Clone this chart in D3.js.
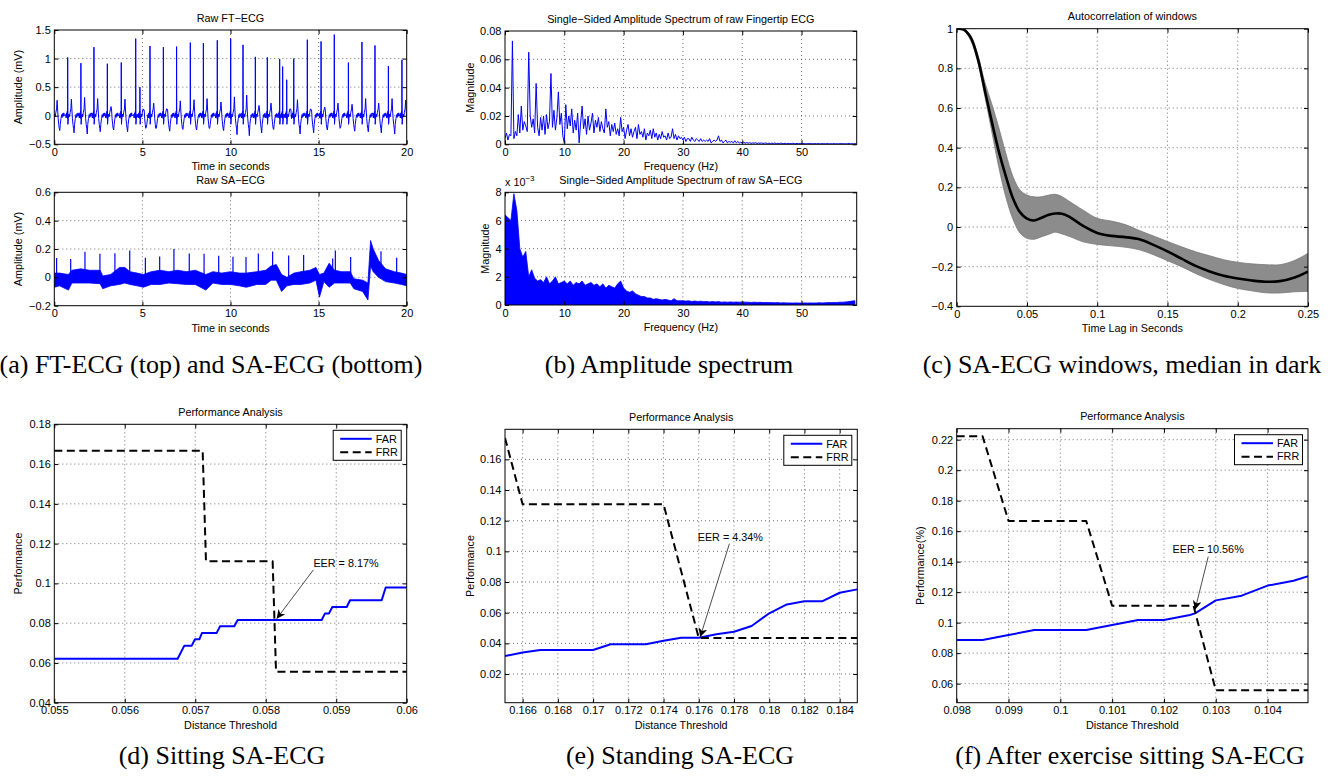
<!DOCTYPE html>
<html>
<head>
<meta charset="utf-8">
<script src="https://d3js.org/d3.v7.min.js"></script>
<style>
  body { margin: 0; background: #fff; }
  svg text { font-family: "Liberation Sans", Arial, sans-serif; }
  .cap { font-family: "Liberation Serif", "Times New Roman", serif; font-size: 26px; }
</style>
</head>
<body>
<svg id="fig" width="1329" height="776"></svg>
<script>
// ---------- (a) raw FT-ECG: beats ----------
const ftBeatT  = [-0.05, 0.76, 1.51, 2.25, 3.01, 3.80, 4.62, 4.86, 5.43, 6.19, 6.94, 7.72, 8.46, 9.25, 10.01,
                  10.71, 11.41, 12.09, 12.79, 12.96, 13.19, 13.59, 14.36, 15.14, 15.89, 16.69, 17.46, 18.20, 18.96, 19.73];
const ftRPeak  = [0.05, 1.02, 0.92, 1.20, 0.91, 0.93, 1.35, 0.50, 1.22, 1.20, 1.21, 1.28, 1.27, 1.32, 1.35,
                  1.24, 1.03, 1.02, 0.99, 0.86, 0.63, 1.00, 1.33, 1.30, 1.42, 0.93, 1.29, 1.23, 0.87, 0.98];
const ftTWave  = [0.27, 0.29, 0.32, 0.30, 0.16, 0.29, 0.25, 0.10, 0.22, 0.12, 0.26, 0.28, 0.30, 0.24, 0.33,
                  0.36, 0.18, 0.22, 0.20, 0.10, 0.12, 0.28, 0.10, 0.15, 0.22, 0.20, 0.30, 0.22, 0.30, 0.27];
const ftDip    = [-0.26, -0.30, -0.32, -0.28, -0.25, -0.28, -0.26, -0.20, -0.22, -0.27, -0.24, -0.25, -0.22, -0.26, -0.33,
                  -0.35, -0.30, -0.24, -0.30, -0.20, -0.22, -0.32, -0.30, -0.25, -0.20, -0.27, -0.28, -0.30, -0.32, -0.28];
// one beat, offsets in seconds from the R peak; "R","T","D" take the per-beat values above
const ftShapeOff = [-0.12, -0.09, -0.065, -0.04, -0.02, -0.008, 0, 0.012, 0.035, 0.07, 0.10, 0.14, 0.18, 0.21,
                    0.24, 0.27, 0.30, 0.33, 0.36, 0.39, 0.43, 0.47, 0.50, 0.53, 0.56, 0.59, 0.62];
const ftShapeVal = [0.02, -0.04, 0.05, -0.02, 0.08, -0.05, "R", -0.15, -0.05, 0.03, -0.02, 0.06, 0.12, "T",
                    0.10, -0.05, -0.15, -0.22, "D", -0.15, -0.05, 0.02, -0.03, 0.04, -0.01, 0.05, 0.0];

// ---------- (a) raw SA-ECG: noise band envelope + spikes ----------
const saT  = [0, 0.3, 0.8, 1.0, 1.5, 2.0, 2.6, 2.75, 3.2, 3.7, 4.0, 4.3, 4.7, 5.05, 5.5, 6.0, 6.5, 7.0, 7.5, 8.0,
              8.6, 9.0, 9.5, 10.0, 10.5, 10.9, 11.5, 12.0, 12.3, 12.6, 12.9, 13.2, 13.6, 14.0, 14.5, 14.85, 15.05, 15.3, 15.6, 15.9,
              16.3, 16.8, 17.0, 17.5, 17.8, 17.95, 18.1, 18.4, 18.8, 19.3, 19.7, 20];
const saHi = [0.03, 0.03, 0.02, 0.05, 0.06, 0.05, 0.05, 0.01, 0.02, 0.07, 0.07, 0.04, 0.03, 0.02, 0.04, 0.05, 0.04, 0.05, 0.04, 0.05,
              0.02, 0.04, 0.03, 0.04, 0.03, 0.03, 0.04, 0.05, 0.08, 0.09, 0.02, 0.0, 0.03, 0.04, 0.05, 0.07, 0.02, 0.03, 0.10, 0.05,
              0.04, 0.04, -0.01, -0.02, -0.04, 0.26, 0.20, 0.12, 0.06, 0.04, 0.03, 0.02];
const saLo = [-0.07, -0.06, -0.09, -0.04, -0.04, -0.04, -0.045, -0.08, -0.06, -0.05, -0.04, -0.05, -0.06, -0.07, -0.05, -0.05, -0.04, -0.045, -0.05, -0.05,
              -0.09, -0.04, -0.05, -0.05, -0.06, -0.07, -0.05, -0.05, -0.02, -0.02, -0.10, -0.06, -0.05, -0.05, -0.04, -0.02, -0.14, -0.03, -0.07, -0.04,
              -0.04, -0.04, -0.08, -0.10, -0.16, 0.08, 0.04, 0.0, -0.03, -0.04, -0.05, -0.06];
const saSpikeT = [0.13, 0.93, 1.74, 2.59, 3.44, 4.28, 5.17, 5.98, 6.79, 7.66, 8.50, 9.33, 10.14, 10.88, 11.58,
                  12.39, 13.30, 14.15, 15.80, 15.95, 16.82, 18.54, 19.43];
const saSpikeV = [0.136, 0.13, 0.18, 0.166, 0.17, 0.19, 0.138, 0.147, 0.20, 0.169, 0.166, 0.152, 0.145, 0.143, 0.169,
                  0.183, 0.155, 0.157, 0.133, 0.19, 0.143, 0.185, 0.138];

// ---------- (b) spectra ----------
// FT-ECG magnitude, one value per 0.25 Hz starting at 0 Hz
const ftMag = [
  0.004, 0.008, 0.003, 0.007,  0.006, 0.073, 0.004, 0.009,  0.006, 0.021, 0.008, 0.027,  0.010, 0.016, 0.013, 0.009,
  0.065, 0.020, 0.012, 0.018,  0.008, 0.043, 0.012, 0.006,  0.019, 0.010, 0.020, 0.007,  0.021, 0.011, 0.016, 0.050,
  0.012, 0.024, 0.010, 0.019,  0.037, 0.014, 0.022, 0.006,  0.001, 0.028, 0.011, 0.020,  0.013, 0.025, 0.008, 0.017,
  0.010, 0.022, 0.001, 0.015,  0.027, 0.011, 0.018, 0.007,  0.020, 0.010, 0.015, 0.022,  0.008, 0.017, 0.012, 0.019,
  0.009, 0.016, 0.011, 0.008,  0.025, 0.012, 0.016, 0.006,  0.014, 0.009, 0.015, 0.007,  0.011, 0.006, 0.019, 0.009,
  0.012, 0.004, 0.010, 0.014,  0.006, 0.011, 0.005, 0.009,  0.012, 0.004, 0.014, 0.007,  0.009, 0.005, 0.011, 0.003,
  0.008, 0.006, 0.010, 0.004,  0.011, 0.005, 0.008, 0.003,  0.007, 0.004, 0.009, 0.005,  0.006, 0.003, 0.008, 0.004,
  0.005, 0.011, 0.004, 0.007,  0.003, 0.006, 0.004, 0.005,  0.003, 0.005, 0.002, 0.004,  0.004, 0.002, 0.005, 0.003,
  0.002, 0.004, 0.003, 0.002,  0.004, 0.002, 0.003, 0.002,  0.003, 0.002, 0.004, 0.001,  0.002, 0.003, 0.002, 0.003,
  0.006, 0.002, 0.003, 0.001,  0.002, 0.003, 0.001, 0.002,  0.0015, 0.002, 0.001, 0.0025, 0.001, 0.002, 0.001, 0.0015,
  0.001, 0.0015, 0.0008, 0.0012, 0.0008, 0.0012, 0.0006, 0.001, 0.0008, 0.0011, 0.0006, 0.0009, 0.0007, 0.0010, 0.0006, 0.0008,
  0.0009, 0.0006, 0.0008, 0.0005, 0.0008, 0.0006, 0.0009, 0.0005, 0.0007, 0.0005, 0.0008, 0.0006, 0.0005, 0.0007, 0.0004, 0.0006,
  0.0006, 0.0004, 0.0007, 0.0005, 0.0004, 0.0006, 0.0005, 0.0004, 0.0006, 0.0004, 0.0005, 0.0003, 0.0005, 0.0004, 0.0006, 0.0003,
  0.0004, 0.0005, 0.0003, 0.0005, 0.0004, 0.0003, 0.0005, 0.0004, 0.0003, 0.0005, 0.0004, 0.0003, 0.0004, 0.0003, 0.0005, 0.0003,
  0.0004, 0.0003, 0.0004, 0.0005, 0.0003, 0.0004, 0.0003, 0.0004, 0.0005, 0.0003, 0.0004, 0.0003, 0.0004, 0.0003];
const ftMagStep = 0.25;
// SA-ECG magnitude (x 10^-3), upper edge of the dense trace, one value per 0.5 Hz
const saMag = [
  6.4, 6.2, 6.0, 7.9, 6.7, 4.0, 3.4, 3.8, 2.0, 2.5,   1.9, 1.7, 1.8, 1.6, 2.0, 1.5, 1.7, 2.0, 1.5, 1.6,
  1.7, 1.5, 1.7, 1.4, 1.6, 1.5, 1.7, 1.4, 1.5, 1.6,   1.4, 1.5, 1.3, 1.5, 1.2, 1.4, 1.3, 1.2, 1.5, 1.7,
  1.2, 1.0, 0.9, 1.0, 0.8, 0.7, 0.6, 0.6, 0.5, 0.5,   0.4, 0.45, 0.4, 0.35, 0.4, 0.35, 0.3, 0.45, 0.3, 0.3,
  0.3, 0.28, 0.3, 0.25, 0.28, 0.25, 0.27, 0.24, 0.25, 0.22,  0.25, 0.22, 0.24, 0.2, 0.22, 0.2, 0.22, 0.2, 0.21, 0.2,
  0.22, 0.2, 0.2, 0.18, 0.2, 0.18, 0.19, 0.17, 0.18, 0.17,  0.17, 0.16, 0.17, 0.15, 0.16, 0.15, 0.15, 0.14, 0.15, 0.14,
  0.14, 0.15, 0.14, 0.15, 0.14, 0.15, 0.16, 0.15, 0.16, 0.17,  0.17, 0.18, 0.18, 0.2, 0.2, 0.22, 0.24, 0.28, 0.3];
const saMagStep = 0.5;

// ---------- (c) autocorrelation of windows ----------
const acLag    = [0, 0.005, 0.01, 0.015, 0.02, 0.025, 0.03, 0.035, 0.04, 0.045, 0.05, 0.055, 0.06, 0.065, 0.07, 0.075, 0.08,
                  0.09, 0.10, 0.11, 0.12, 0.13, 0.14, 0.15, 0.16, 0.17, 0.18, 0.19, 0.20, 0.21, 0.22, 0.23, 0.24, 0.25];
const acMedian = [1.0, 0.995, 0.955, 0.85, 0.69, 0.53, 0.38, 0.255, 0.145, 0.075, 0.042, 0.033, 0.045, 0.06, 0.068, 0.067, 0.052,
                  0.005, -0.03, -0.045, -0.051, -0.062, -0.09, -0.123, -0.16, -0.196, -0.224, -0.246, -0.26, -0.27, -0.276, -0.273, -0.256, -0.225];
const acUpper  = [1.0, 1.0, 0.965, 0.87, 0.73, 0.62, 0.50, 0.37, 0.255, 0.187, 0.161, 0.152, 0.152, 0.16, 0.165, 0.153, 0.13,
                  0.085, 0.044, 0.03, 0.012, -0.018, -0.045, -0.073, -0.10, -0.125, -0.145, -0.165, -0.178, -0.186, -0.19, -0.19, -0.17, -0.133];
const acLower  = [1.0, 0.99, 0.94, 0.83, 0.66, 0.48, 0.30, 0.15, 0.04, -0.03, -0.057, -0.062, -0.05, -0.038, -0.026, -0.035, -0.047,
                  -0.075, -0.088, -0.095, -0.102, -0.115, -0.14, -0.17, -0.20, -0.235, -0.265, -0.29, -0.31, -0.322, -0.332, -0.333, -0.327, -0.325];

// ---------- (d) sitting ----------
const dFarX = [0.055, 0.05675, 0.056845, 0.05695, 0.056996, 0.057058, 0.057096, 0.057304, 0.057351, 0.057554,
               0.057602, 0.058794, 0.058841, 0.058898, 0.058945, 0.059149, 0.059196, 0.059645, 0.059702, 0.06];
const dFarY = [0.0621, 0.0621, 0.0687, 0.0687, 0.0719, 0.0719, 0.0751, 0.0751, 0.0784, 0.0784,
               0.0816, 0.0816, 0.0849, 0.0849, 0.0881, 0.0881, 0.0915, 0.0915, 0.0979, 0.0979];
const dFrrX = [0.055, 0.057105, 0.057152, 0.058098, 0.058146, 0.06];
const dFrrY = [0.1667, 0.1667, 0.1111, 0.1111, 0.0556, 0.0556];

// ---------- (e) standing ----------
const eFarX = [0.165, 0.166, 0.167, 0.168, 0.169, 0.170, 0.171, 0.172, 0.173, 0.174, 0.175,
               0.176, 0.177, 0.178, 0.179, 0.180, 0.181, 0.182, 0.183, 0.184, 0.185];
const eFarY = [0.0317, 0.0341, 0.0357, 0.0357, 0.0357, 0.0357, 0.0394, 0.0394, 0.0394, 0.0417, 0.0437,
               0.0437, 0.0459, 0.0476, 0.0513, 0.0596, 0.0654, 0.0674, 0.0674, 0.0730, 0.0752];
const eFrrX = [0.165, 0.166, 0.174, 0.176, 0.185];
const eFrrY = [0.174, 0.1307, 0.1307, 0.0435, 0.0435];

// ---------- (f) after exercise sitting ----------
const fFarX = [0.098, 0.0985, 0.099, 0.0995, 0.100, 0.1005, 0.101, 0.1015, 0.102, 0.1025, 0.1026,
               0.103, 0.1035, 0.104, 0.1045, 0.105];
const fFarY = [0.0886, 0.0886, 0.0919, 0.0952, 0.0952, 0.0952, 0.0985, 0.1017, 0.1017, 0.1050, 0.1061,
               0.1146, 0.1177, 0.1243, 0.1275, 0.1327];
const fFrrX = [0.098, 0.0985, 0.099, 0.1005, 0.101, 0.10257, 0.103, 0.105];
const fFrrY = [0.2222, 0.2222, 0.1667, 0.1667, 0.1111, 0.1111, 0.0556, 0.0556];

const captions = [
  ["(a) FT-ECG (top) and SA-ECG (bottom)", 211, 373],
  ["(b) Amplitude spectrum", 669, 373],
  ["(c) SA-ECG windows, median in dark", 1122, 373],
  ["(d) Sitting SA-ECG", 222, 764],
  ["(e) Standing SA-ECG", 680, 764],
  ["(f) After exercise sitting SA-ECG", 1130, 764]
];

// ================= drawing =================
const svg = d3.select("#fig");
svg.append("rect").attr("width", 1329).attr("height", 776).attr("fill", "#fff");
const defs = svg.append("defs");
defs.append("marker").attr("id", "arrow")
  .attr("viewBox", "0 0 10 10").attr("refX", 10).attr("refY", 5)
  .attr("markerWidth", 9).attr("markerHeight", 9).attr("markerUnits", "userSpaceOnUse")
  .attr("orient", "auto")
  .append("path").attr("d", "M0,0 L10,5 L0,10 L3,5 Z").attr("fill", "#000");

const FONT = "Liberation Sans, Arial, sans-serif";
const BLUE = "#0000ff";
const fmt = d => String(+d.toFixed(6)).replace("-", "\u2212");
let clipN = 0;

function axes(o) {
  const fs = o.fs || 11;
  const g = svg.append("g").attr("transform", `translate(${o.left},${o.top})`);
  const x = d3.scaleLinear().domain(o.xDomain).range([0, o.w]);
  const y = d3.scaleLinear().domain(o.yDomain).range([o.h, 0]);

  const grid = g.append("g").attr("stroke", "#333").attr("stroke-width", 0.7).attr("stroke-dasharray", "1,3");
  o.xTicks.forEach(t => {
    const p = x(t);
    if (p > 1 && p < o.w - 1) grid.append("line").attr("x1", p).attr("x2", p).attr("y1", 0).attr("y2", o.h);
  });
  o.yTicks.forEach(t => {
    const p = y(t);
    if (p > 1 && p < o.h - 1) grid.append("line").attr("y1", p).attr("y2", p).attr("x1", 0).attr("x2", o.w);
  });

  const id = "clip" + (clipN++);
  g.append("clipPath").attr("id", id).append("rect").attr("width", o.w).attr("height", o.h);
  const plot = g.append("g").attr("clip-path", `url(#${id})`);
  const top = g.append("g");

  const style = s => s.attr("font-family", FONT).attr("font-size", fs).call(s => s.select(".domain").remove());
  top.append("g").attr("transform", `translate(0,${o.h})`)
    .call(d3.axisBottom(x).tickValues(o.xTicks).tickSize(-4).tickPadding(4).tickFormat(fmt)).call(style);
  top.append("g")
    .call(d3.axisTop(x).tickValues(o.xTicks).tickSize(-4).tickFormat("")).call(style);
  top.append("g")
    .call(d3.axisLeft(y).tickValues(o.yTicks).tickSize(-4).tickPadding(3.5).tickFormat(fmt)).call(style);
  top.append("g").attr("transform", `translate(${o.w},0)`)
    .call(d3.axisRight(y).tickValues(o.yTicks).tickSize(-4).tickFormat("")).call(style);
  top.selectAll(".tick line").attr("stroke", "#000");
  top.selectAll(".tick text").attr("fill", "#000");
  top.append("rect").attr("width", o.w).attr("height", o.h)
    .attr("fill", "none").attr("stroke", "#000").attr("stroke-width", 1);

  if (o.title) top.append("text").attr("x", o.w / 2).attr("y", -8.5)
    .attr("text-anchor", "middle").attr("font-size", 10.8).text(o.title);
  if (o.xLabel) top.append("text").attr("x", o.w / 2).attr("y", o.h + 26)
    .attr("text-anchor", "middle").attr("font-size", 10.8).text(o.xLabel);
  if (o.yLabel) top.append("text")
    .attr("transform", `translate(${-o.yLabelOff},${o.h / 2}) rotate(-90)`)
    .attr("text-anchor", "middle").attr("font-size", 10.8).text(o.yLabel);
  return { g, x, y, plot, top, o };
}

function line(a, xs, ys, color, width, dash) {
  const l = d3.line().x(d => a.x(d[0])).y(d => a.y(d[1]));
  a.plot.append("path").datum(d3.zip(xs, ys)).attr("d", l)
    .attr("fill", "none").attr("stroke", color).attr("stroke-width", width)
    .attr("stroke-dasharray", dash || null).attr("stroke-linejoin", "round");
}

function legend(a) {
  const bw = 68, bh = 30;
  const bx = a.o.w - 5.5 - bw, by = 6;
  const lg = a.top.append("g").attr("transform", `translate(${bx},${by})`);
  lg.append("rect").attr("width", bw).attr("height", bh).attr("fill", "#fff").attr("stroke", "#000").attr("stroke-width", 1);
  [["FAR", BLUE, null, 8.5], ["FRR", "#000", "8,4.5", 22]].forEach(([name, c, dash, ly]) => {
    lg.append("line").attr("x1", 7).attr("x2", 38.5).attr("y1", ly).attr("y2", ly)
      .attr("stroke", c).attr("stroke-width", 2).attr("stroke-dasharray", dash);
    lg.append("text").attr("x", 42.5).attr("y", ly + 3.8).attr("font-size", 10.8).text(name);
  });
}

function eer(a, label, tx, ty, ax0, ay0, ax1, ay1) {
  a.top.append("text").attr("x", a.x(tx)).attr("y", a.y(ty)).attr("font-size", 10.8).text(label);
  a.top.append("line").attr("x1", a.x(ax0)).attr("y1", a.y(ay0)).attr("x2", a.x(ax1)).attr("y2", a.y(ay1))
    .attr("stroke", "#000").attr("stroke-width", 0.7).attr("marker-end", "url(#arrow)");
}

// ---- (a) top: FT-ECG ----
const ftTrace = [];
ftBeatT.forEach((bt, i) => {
  const stop = i < ftBeatT.length - 1 ? ftBeatT[i + 1] + ftShapeOff[0] : Infinity;
  ftShapeOff.forEach((off, k) => {
    const t = bt + off;
    if (t >= stop) return;
    let v = ftShapeVal[k];
    if (v === "R") v = ftRPeak[i]; else if (v === "T") v = ftTWave[i]; else if (v === "D") v = ftDip[i];
    ftTrace.push([t, v]);
  });
});
const a1 = axes({ left: 54.3, top: 30, w: 352.4, h: 114.3, xDomain: [0, 20], yDomain: [-0.5, 1.5],
  xTicks: [0, 5, 10, 15, 20], yTicks: [-0.5, 0, 0.5, 1, 1.5],
  title: "Raw FT\u2212ECG", xLabel: "Time in seconds", yLabel: "Amplitude (mV)", yLabelOff: 32 });
line(a1, ftTrace.map(d => d[0]), ftTrace.map(d => d[1]), BLUE, 1);

// ---- (a) bottom: SA-ECG ----
const a2 = axes({ left: 54.3, top: 192.3, w: 352.4, h: 113.4, xDomain: [0, 20], yDomain: [-0.2, 0.6],
  xTicks: [0, 5, 10, 15, 20], yTicks: [-0.2, 0, 0.2, 0.4, 0.6],
  title: "Raw SA\u2212ECG", xLabel: "Time in seconds", yLabel: "Amplitude (mV)", yLabelOff: 32 });
a2.plot.append("path").datum(d3.range(saT.length))
  .attr("d", d3.area().x(i => a2.x(saT[i])).y0(i => a2.y(saLo[i])).y1(i => a2.y(saHi[i])))
  .attr("fill", BLUE).attr("stroke", BLUE).attr("stroke-width", 0.8);
a2.plot.selectAll("line.spk").data(d3.range(saSpikeT.length)).join("line")
  .attr("x1", i => a2.x(saSpikeT[i])).attr("x2", i => a2.x(saSpikeT[i]))
  .attr("y1", a2.y(0)).attr("y2", i => a2.y(saSpikeV[i]))
  .attr("stroke", BLUE).attr("stroke-width", 1.2);

// ---- (b) top: FT spectrum ----
const b1 = axes({ left: 505, top: 31, w: 351.7, h: 113.3, xDomain: [0, 59.3], yDomain: [0, 0.08],
  xTicks: [0, 10, 20, 30, 40, 50], yTicks: [0, 0.02, 0.04, 0.06, 0.08],
  title: "Single\u2212Sided Amplitude Spectrum of raw Fingertip ECG", xLabel: "Frequency (Hz)",
  yLabel: "Magnitude", yLabelOff: 31 });
line(b1, ftMag.map((v, i) => i * ftMagStep), ftMag, BLUE, 1);

// ---- (b) bottom: SA spectrum ----
const b2 = axes({ left: 505, top: 192.3, w: 351.7, h: 112.7, xDomain: [0, 59.3], yDomain: [0, 8],
  xTicks: [0, 10, 20, 30, 40, 50], yTicks: [0, 2, 4, 6, 8],
  title: "Single\u2212Sided Amplitude Spectrum of raw SA\u2212ECG", xLabel: "Frequency (Hz)",
  yLabel: "Magnitude", yLabelOff: 16 });
b2.plot.append("path").datum(saMag)
  .attr("d", d3.area().x((v, i) => b2.x(i * saMagStep)).y0(b2.y(0)).y1(v => b2.y(v)))
  .attr("fill", BLUE).attr("stroke", BLUE).attr("stroke-width", 0.8);
const mult = b2.top.append("text").attr("x", 0).attr("y", -6).attr("font-size", 10.8);
mult.append("tspan").text("x 10");
mult.append("tspan").attr("dy", -5).attr("font-size", 8).text("\u22123");

// ---- (c) autocorrelation ----
const c = axes({ left: 956.7, top: 28.7, w: 351.3, h: 277.6, xDomain: [0, 0.25], yDomain: [-0.4, 1],
  xTicks: [0, 0.05, 0.1, 0.15, 0.2, 0.25], yTicks: [-0.4, -0.2, 0, 0.2, 0.4, 0.6, 0.8, 1],
  title: "Autocorrelation of windows", xLabel: "Time Lag in Seconds" });
const smooth = d3.curveCatmullRom;
c.plot.append("path").datum(d3.range(acLag.length))
  .attr("d", d3.area().curve(smooth).x(i => c.x(acLag[i])).y0(i => c.y(acLower[i])).y1(i => c.y(acUpper[i])))
  .attr("fill", "#8c8c8c");
[acUpper, acLower].forEach(arr => {
  c.plot.append("path").datum(d3.zip(acLag, arr))
    .attr("d", d3.line().curve(smooth).x(d => c.x(d[0])).y(d => c.y(d[1])))
    .attr("fill", "none").attr("stroke", "#7a7a7a").attr("stroke-width", 0.8);
});
c.plot.append("path").datum(d3.zip(acLag, acMedian))
  .attr("d", d3.line().curve(smooth).x(d => c.x(d[0])).y(d => c.y(d[1])))
  .attr("fill", "none").attr("stroke", "#000").attr("stroke-width", 2.6);

// ---- (d) ----
const d = axes({ left: 54.3, top: 424.3, w: 352.4, h: 278.4, xDomain: [0.055, 0.06], yDomain: [0.04, 0.18],
  xTicks: [0.055, 0.056, 0.057, 0.058, 0.059, 0.06], yTicks: [0.04, 0.06, 0.08, 0.1, 0.12, 0.14, 0.16, 0.18],
  title: "Performance Analysis", xLabel: "Distance Threshold", yLabel: "Performance", yLabelOff: 32 });
line(d, dFarX, dFarY, BLUE, 2);
line(d, dFrrX, dFrrY, "#000", 2, "8,4.5");
legend(d);
eer(d, "EER = 8.17%", 0.058676, 0.1084, 0.058676, 0.1068, 0.058155, 0.0822);

// ---- (e) ----
const e = axes({ left: 505, top: 429.3, w: 352.3, h: 273.4, xDomain: [0.165, 0.185], yDomain: [0.0013, 0.1796],
  xTicks: [0.166, 0.168, 0.17, 0.172, 0.174, 0.176, 0.178, 0.18, 0.182, 0.184],
  yTicks: [0.02, 0.04, 0.06, 0.08, 0.1, 0.12, 0.14, 0.16],
  title: "Performance Analysis", xLabel: "Distance Threshold", yLabel: "Performance", yLabelOff: 31.5 });
line(e, eFarX, eFarY, BLUE, 2);
line(e, eFrrX, eFrrY, "#000", 2, "8,4.5");
legend(e);
eer(e, "EER = 4.34%", 0.17594, 0.1070, 0.17774, 0.1050, 0.17608, 0.0441);

// ---- (f) ----
const f = axes({ left: 956.7, top: 428.7, w: 351.3, h: 274, xDomain: [0.098, 0.10478], yDomain: [0.0475, 0.2272],
  xTicks: [0.098, 0.099, 0.1, 0.101, 0.102, 0.103, 0.104],
  yTicks: [0.06, 0.08, 0.1, 0.12, 0.14, 0.16, 0.18, 0.2, 0.22],
  title: "Performance Analysis", xLabel: "Distance Threshold", yLabel: "Performance(%)", yLabelOff: 32.7 });
line(f, fFarX, fFarY, BLUE, 2);
line(f, fFrrX, fFrrY, "#000", 2, "8,4.5");
legend(f);
eer(f, "EER = 10.56%", 0.102167, 0.1459, 0.102855, 0.1433, 0.1026, 0.1085);

// ---- captions ----
svg.selectAll("text.cap").data(captions).join("text").attr("class", "cap")
  .attr("x", c => c[1]).attr("y", c => c[2]).attr("text-anchor", "middle").text(c => c[0]);
</script>
</body>
</html>
